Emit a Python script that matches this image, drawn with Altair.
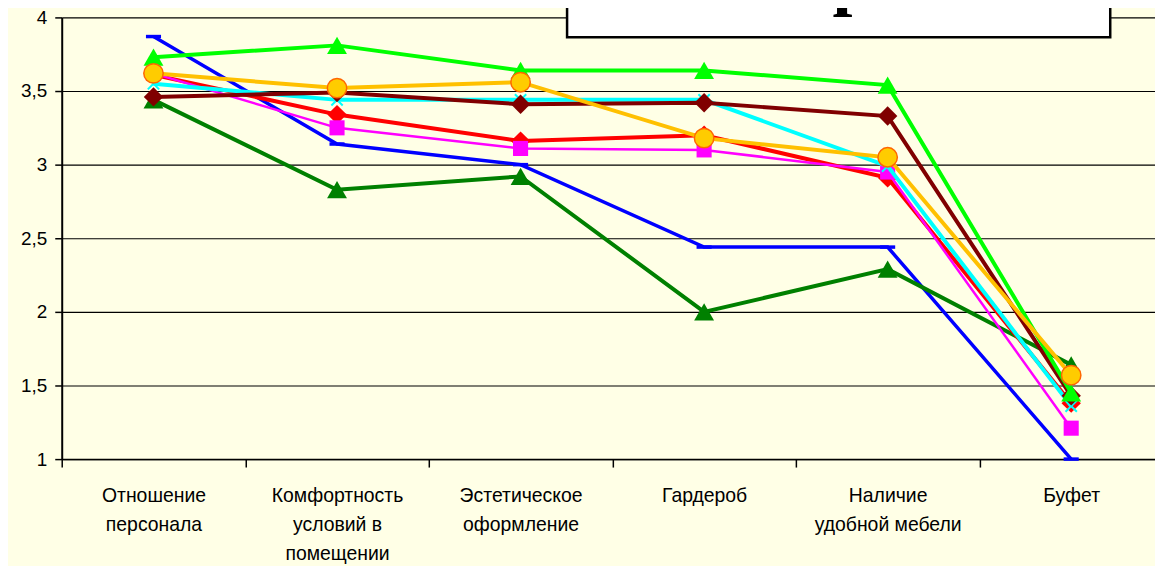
import altair as alt
import pandas as pd

# Categories (| marks a line break in the axis label)
categories = [
    "Отношение|персонала",
    "Комфортность|условий в|помещении",
    "Эстетическое|оформление",
    "Гардероб",
    "Наличие|удобной мебели",
    "Буфет",
]

# Series values
blue = [3.87, 3.14, 3.00, 2.44, 2.44, 1.00]
dark_green = [3.44, 2.83, 2.92, 2.00, 2.29, 1.64]
red = [3.61, 3.34, 3.16, 3.20, 2.91, 1.38]
magenta = [3.62, 3.25, 3.11, 3.10, 2.95, 1.21]
cyan = [3.55, 3.44, 3.44, 3.44, 2.99, 1.36]
maroon = [3.46, 3.49, 3.41, 3.42, 3.33, 1.43]
light_green = [3.73, 3.81, 3.64, 3.64, 3.54, 1.45]
orange = [3.62, 3.52, 3.56, 3.18, 3.05, 1.57]

y_ticks = [1, 1.5, 2, 2.5, 3, 3.5, 4]
title_text = "Опрос"

# (name, values, line colour, line width, marker shape, marker fill, marker stroke, marker size, filled)
series = [
    ("s1", blue, "#0000FF", 3.5, "M-1,0L1,0", None, "#0000FF", 230, False),
    ("s2", dark_green, "#008000", 4, "triangle-up", "#008000", None, 400, True),
    ("s3", red, "#FF0000", 4, "diamond", "#FF0000", None, 380, True),
    ("s4", magenta, "#FF00FF", 2.5, "square", "#FF00FF", None, 230, True),
    ("s5", cyan, "#00FFFF", 4, "M-1,-1L1,1M1,-1L-1,1", None, "#00FFFF", 130, False),
    ("s6", maroon, "#800000", 4, "diamond", "#800000", None, 380, True),
    ("s7", light_green, "#00FF00", 4, "triangle-up", "#00FF00", None, 400, True),
    ("s8", orange, "#FFC000", 4, "circle", "#FFCC00", "#FF6600", 380, True),
]

x_enc = alt.X(
    "cat:N",
    sort=categories,
    bandPosition=0.5,
    scale=alt.Scale(type="band", paddingInner=0, paddingOuter=0, domain=categories),
    axis=alt.Axis(
        title=None,
        labelExpr="split(datum.label, '|')",
        labelAngle=0,
        labelFont="Liberation Sans",
        labelFontSize=19.5,
        labelColor="black",
        labelLineHeight=29,
        labelPadding=20,
        labelBaseline="top",
        tickBand="extent",
        tickSize=8,
        tickColor="black",
        tickWidth=1.5,
        domainColor="black",
        domainWidth=1.5,
        grid=False,
    ),
)
y_enc = alt.Y(
    "v:Q",
    scale=alt.Scale(domain=[1, 4], nice=False, zero=False),
    axis=alt.Axis(
        title=None,
        values=y_ticks,
        labelExpr="replace(toString(datum.value), '.', ',')",
        labelFont="Liberation Sans",
        labelFontSize=19,
        labelColor="black",
        labelPadding=8,
        tickSize=7,
        tickColor="black",
        tickWidth=1.5,
        domainColor="black",
        domainWidth=2,
        grid=True,
        gridColor="black",
        gridWidth=1.2,
    ),
)

layers = []

df_all = pd.DataFrame({"cat": categories, "v": blue})
layers.append(alt.Chart(df_all).mark_line(opacity=0).encode(x=x_enc, y=y_enc))

for name, vals, color, lw, shape, fill, stroke, size, filled in series:
    df = pd.DataFrame({"cat": categories, "v": vals})
    base = alt.Chart(df)
    line = base.mark_line(color=color, strokeWidth=lw).encode(
        x=alt.X("cat:N", sort=categories, bandPosition=0.5),
        y=alt.Y("v:Q"),
    )
    pkw = dict(shape=shape, size=size, filled=filled, opacity=1)
    if filled:
        pkw["fill"] = fill
        if stroke:
            pkw["stroke"] = stroke
            pkw["strokeWidth"] = 1.5
        else:
            pkw["strokeWidth"] = 0
    else:
        pkw["stroke"] = stroke
        pkw["strokeWidth"] = 3.5 if name == "s1" else 2
    pts = base.mark_point(**pkw).encode(
        x=alt.X("cat:N", sort=categories, bandPosition=0.5),
        y=alt.Y("v:Q"),
    )
    layers += [line, pts]

one = pd.DataFrame({"a": [0]})
box = alt.Chart(one).mark_rect(fill="white", stroke="black", strokeWidth=2.5).encode(
    x=alt.value(508), x2=alt.value(1054), y=alt.value(-40), y2=alt.value(20)
)
title = alt.Chart(one).mark_text(
    font="Liberation Serif", fontSize=72, fontWeight="bold", baseline="alphabetic",
    align="center", color="black"
).encode(x=alt.value(780), y=alt.value(-15), text=alt.value(title_text))
layers += [box, title]

chart = (
    alt.layer(*layers)
    .properties(
        width=1107,
        height=444,
        autosize=alt.AutoSizeParams(type="none"),
        padding={"left": 54, "top": 8, "right": -8, "bottom": 106},
        background="#FFFFE6",
    )
    .configure_view(stroke=None, fill="#FFFFE6")
)

chart.save("out.html", embed_options={"renderer": "svg", "actions": False})
